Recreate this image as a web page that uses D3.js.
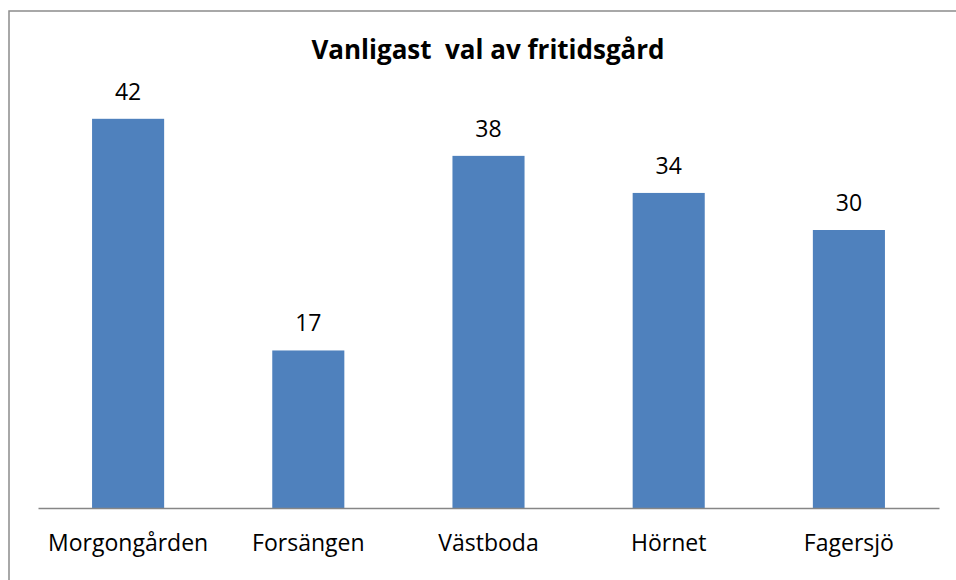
<!DOCTYPE html>
<html>
<head>
<meta charset="utf-8">
<script src="https://cdn.jsdelivr.net/npm/d3@7"></script>
<style>
  body { margin: 0; background: #fff; }
  text { font-family: "Open Sans", Lato, sans-serif; }
</style>
</head>
<body>
<svg id="chart"></svg>
<script>
// data
const categories = ["Morgongården", "Forsängen", "Västboda", "Hörnet", "Fagersjö"];
const values = [42, 17, 38, 34, 30];
const title = "Vanligast  val av fritidsgård";

const width = 956, height = 580;
const margin = { top: 91, right: 17, bottom: 72, left: 38 };
const innerW = width - margin.left - margin.right,
  innerH = height - margin.top - margin.bottom;

const svg = d3.select('#chart').attr('width', width).attr('height', height);

// outer frame (right/bottom edges fall outside the picture)
svg.append('rect').attr('x', 9).attr('y', 11).attr('width', 960).attr('height', 600)
  .attr('fill', 'none').attr('stroke', '#8c8c8c').attr('stroke-width', 1.5);

const g = svg.append('g').attr('transform', `translate(${margin.left},${margin.top})`);

const x = d3.scaleBand().domain(categories).range([0, innerW]).paddingInner(0.6).paddingOuter(0.3);
const y = d3.scaleLinear().domain([0, 45]).range([innerH, 0]);

g.selectAll('rect.bar').data(values).join('rect')
  .attr('class', 'bar')
  .attr('x', (d, i) => x(categories[i]))
  .attr('y', d => y(d))
  .attr('width', x.bandwidth())
  .attr('height', d => innerH - y(d))
  .attr('fill', '#4f81bd');

g.selectAll('text.val').data(values).join('text')
  .attr('class', 'val')
  .attr('x', (d, i) => x(categories[i]) + x.bandwidth() / 2)
  .attr('y', d => y(d) - 19)
  .attr('text-anchor', 'middle')
  .attr('font-size', 23)
  .attr('fill', '#000')
  .text(d => d);

const xAxis = g.append('g').attr('transform', `translate(0,${innerH})`)
  .call(d3.axisBottom(x).tickSize(0).tickPadding(0));
xAxis.select('.domain').attr('stroke', '#868686').attr('stroke-width', 1.5);
xAxis.selectAll('.tick text')
  .attr('dy', null).attr('y', 551 - margin.top - innerH)
  .attr('font-size', 23).attr('fill', '#000')
  .style('font-family', '"Open Sans", Lato, sans-serif');

svg.append('text').attr('x', 488).attr('y', 59).attr('text-anchor', 'middle')
  .attr('font-size', 26).attr('font-weight', 'bold').attr('fill', '#000')
  .style('white-space', 'pre')
  .text(title);
</script>
</body>
</html>
